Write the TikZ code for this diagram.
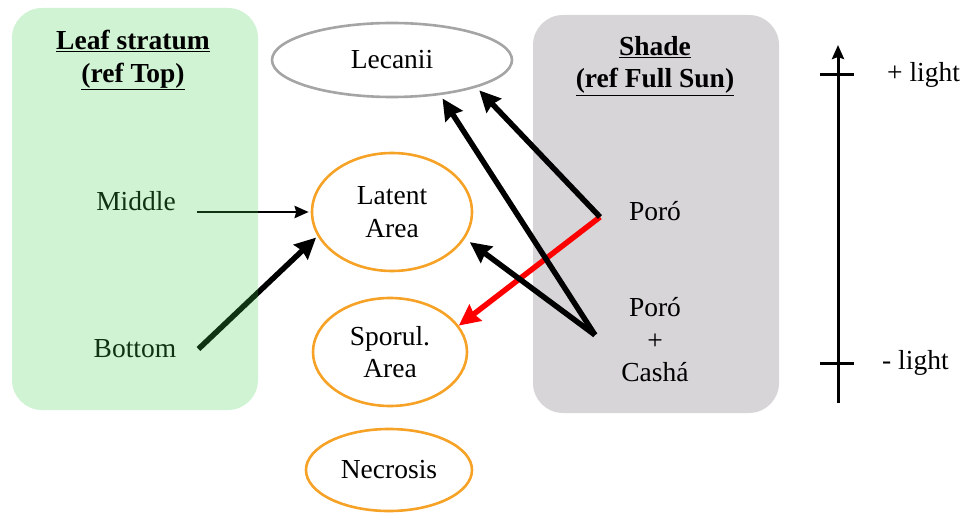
\documentclass[tikz,border=0pt]{standalone}
\usepackage{fontspec}
\setmainfont{Liberation Serif}
\usepackage{tikz}
\usetikzlibrary{arrows.meta,positioning,shapes.geometric}
\definecolor{leafgreen}{RGB}{63,207,79}
\definecolor{shadegray}{RGB}{215,213,215}
\definecolor{lecgray}{RGB}{165,165,165}
\definecolor{amber}{RGB}{246,162,38}
\newcommand{\bigtxt}{\fontsize{27.5}{32.5}\selectfont}

\begin{document}
\begin{tikzpicture}[x=1pt, y=-1pt, font=\bigtxt, panel/.style={rounded corners=30pt}, oval/.style={ellipse, draw=amber, line width=2.6pt, align=center, inner sep=0pt}, lab/.style={align=center, inner sep=0pt}, head/.style={lab, font=\bigtxt\bfseries}, arr/.style={-{Stealth[length=21pt,width=20pt,inset=2pt]}, line width=5.5pt}, thinarr/.style={-{Stealth[length=14pt,width=12pt,inset=1.5pt]}, line width=2.8pt}, axisline/.style={line width=3pt}]
\useasboundingbox (0,0) rectangle (966,513);
\fill[shadegray, panel] (533,15) rectangle (779,413);
\node[head] (shadetitle) at (655,66) {\underline{Shade}\\\underline{(ref Full Sun)}};
\node[lab] (middle) at (136,201) {Middle};
\node[lab] (bottom) at (135,349) {Bottom};
\node[lab] (poro) at (655,211) {Poró};
\node[lab] (porocasha) at (655,340) {Poró\\+\\Cashá};
\node[oval, draw=lecgray, minimum width=240pt, minimum height=74pt] (lecanii) at (392,60) {Lecanii};
\node[oval, minimum width=160pt, minimum height=118pt] (latent) at (392,212) {Latent\\Area};
\node[oval, minimum width=154pt, minimum height=108pt] (sporul) at (390,352) {Sporul.\\Area};
\node[oval, minimum width=166pt, minimum height=82pt] (necrosis) at (389,470) {Necrosis};
\coordinate (poroA) at (600,217);
\coordinate (poroB) at (595,335);
\draw[arr, red] (poroA) -- (sporul.21);
\draw[arr, shorten >=4pt] (poroA) -- (lecanii.-18);
\draw[arr, shorten >=4pt] (poroB) -- (lecanii.-36);
\draw[arr, shorten >=6pt] (poroB) -- (latent.-20);
\draw[thinarr, shorten <=21pt, shorten >=2pt] (middle.east |- latent.west) -- (latent.west);
\draw[arr, shorten >=2pt] ([xshift=22pt]bottom.east) -- (latent.198);
\fill[leafgreen, fill opacity=0.25, panel] (12,8) rectangle (258,410);
\node[head] (leaftitle) at (133,60) {\underline{Leaf stratum}\\\underline{(ref Top)}};
\coordinate (axbot) at (838,403);
\coordinate (axtop) at (838,45);
\coordinate (tickhi) at (838,75);
\coordinate (ticklo) at (838,363);
\draw[axisline, -{Stealth[length=14pt,width=12pt,inset=2pt]}] (axbot) -- (axtop);
\draw[axisline] ([xshift=-18pt]tickhi) -- ([xshift=16pt]tickhi);
\draw[axisline] ([xshift=-18pt]ticklo) -- ([xshift=16pt]ticklo);
\node[lab, right=49pt of tickhi] (pluslight) {+ light};
\node[lab, right=44pt of ticklo] (minuslight) {- light};
\end{tikzpicture}
\end{document}
